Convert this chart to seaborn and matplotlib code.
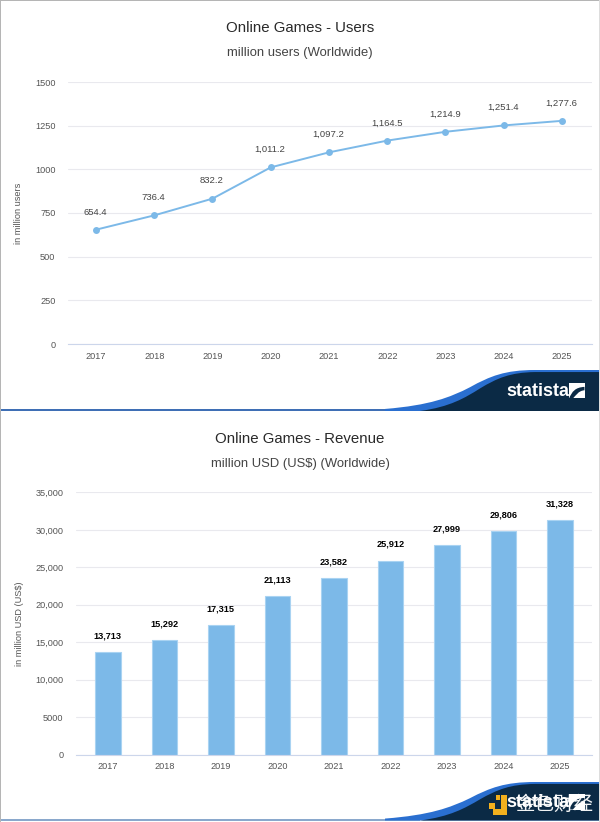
"""Online Games users and revenue, two stacked Statista panels."""

import matplotlib

matplotlib.use("Agg")
import matplotlib.pyplot as plt  # noqa: E402
import seaborn as sns  # noqa: E402
from matplotlib.patches import PathPatch, Rectangle  # noqa: E402
from matplotlib.path import Path  # noqa: E402

years = ["2017", "2018", "2019", "2020", "2021", "2022", "2023", "2024", "2025"]
users = [654.4, 736.4, 832.2, 1011.2, 1097.2, 1164.5, 1214.9, 1251.4, 1277.6]
revenue = [13713, 15292, 17315, 21113, 23582, 25912, 27999, 29806, 31328]
user_ticks = [0, 250, 500, 750, 1000, 1250, 1500]
revenue_ticks = [0, 5000, 10000, 15000, 20000, 25000, 30000, 35000]
revenue_tick_labels = ["0", "5000", "10,000", "15,000", "20,000", "25,000", "30,000", "35,000"]

W, H = 600, 822
BLUE = "#7cb9e8"
NAVY = "#0b2a45"
BRIGHT = "#2a6fd0"
GRID = "#e9e9ee"
TEXT = "#555555"
YELLOW = "#f2b01e"

sns.set_theme(style="white")
plt.rcParams["font.family"] = ["Liberation Sans", "Noto Sans CJK SC", "DejaVu Sans"]


def px_axes(fig, left, top, right, bottom):
    """Add axes from pixel edges, counted from the top left."""
    return fig.add_axes([left / W, 1 - bottom / H, (right - left) / W, (bottom - top) / H])


def style_axes(ax, ylabel, ticks, labels, ymax, label_x):
    ax.set_ylim(0, ymax)
    ax.set_yticks(ticks)
    ax.set_yticklabels(labels)
    ax.set_xlabel("")
    ax.set_ylabel(ylabel, fontsize=6.6, color=TEXT)
    ax.yaxis.set_label_coords(label_x, 0.5)
    ax.grid(axis="y", color=GRID, linewidth=0.8)
    ax.set_axisbelow(True)
    sns.despine(ax=ax, left=True, top=True, right=True)
    ax.spines["bottom"].set_color("#ccd6eb")
    ax.spines["bottom"].set_linewidth(0.8)
    ax.tick_params(axis="y", labelsize=6.6, labelcolor=TEXT, length=0, pad=9)
    ax.tick_params(axis="x", labelsize=6.6, labelcolor=TEXT, length=0, pad=5.5)


def draw_banner(ov, top, bottom):
    """Navy ribbon with its bright blue edge, drawn in pixel coordinates."""
    span = bottom - top

    def up(frac):
        return bottom - frac * span

    curves = [Path.MOVETO] + [Path.CURVE4] * 6
    blue = [(385, up(0.05)), (430, up(0.14)), (450, up(0.33)), (470, up(0.58)),
            (490, up(0.85)), (505, up(1.0)), (535, up(1.0)),
            (W, up(1.0)), (W, bottom), (385, bottom)]
    ov.add_patch(PathPatch(Path(blue, curves + [Path.LINETO] * 3), fc=BRIGHT, ec="none"))
    navy = [(420, bottom), (450, up(0.10)), (465, up(0.32)), (480, up(0.55)),
            (497, up(0.80)), (510, up(0.94)), (535, up(0.95)),
            (W, up(0.95)), (W, bottom), (420, bottom)]
    ov.add_patch(PathPatch(Path(navy, curves + [Path.LINETO] * 3), fc=NAVY, ec="none"))


def draw_logo(ov, x, y):
    ov.text(x, y, "statista", color="white", fontsize=13, fontweight="bold",
            ha="left", va="center")
    left, top = x + 63, y - 8
    size = 15.5
    ov.add_patch(Rectangle((left, top), size, size, fc="white", ec="none"))
    band = [(0, 1), (0.2, 0.55), (0.4, 0.28), (1, 0.25), (1, 0.47),
            (0.6, 0.5), (0.45, 0.8), (0.25, 1), (0, 1)]
    band = [(left + u * size, top + v * size) for u, v in band]
    codes = [Path.MOVETO] + [Path.CURVE4] * 3 + [Path.LINETO] + [Path.CURVE4] * 3 + [Path.LINETO]
    ov.add_patch(PathPatch(Path(band, codes), fc=NAVY, ec="none"))


fig = plt.figure(figsize=(W / 100, H / 100), dpi=100, facecolor="white")

# users panel
ax1 = px_axes(fig, 68, 82, 592, 344)
sns.lineplot(x=years, y=users, ax=ax1, color=BLUE, linewidth=1.4, marker="o",
             markersize=5, markeredgewidth=0, errorbar=None, sort=False)
ax1.set_xlim(-0.48, 8.515)
style_axes(ax1, "in million users", user_ticks, [str(t) for t in user_ticks], 1500,
           (23 - 68) / 524)
for i, value in enumerate(users):
    ax1.annotate(f"{value:,.1f}", (i, value), xytext=(-0.5, 9.5), textcoords="offset points",
                 ha="center", va="bottom", fontsize=6.8, color="#444444")

# revenue panel
ax2 = px_axes(fig, 76, 492.5, 592, 754.5)
sns.barplot(x=years, y=revenue, ax=ax2, color=BLUE, width=0.45, saturation=1,
            edgecolor="#a9d3f2", linewidth=0.8, errorbar=None)
ax2.set_xlim(-0.563, 8.57)
style_axes(ax2, "in million USD (US$)", revenue_ticks, revenue_tick_labels, 35000,
           (24.5 - 76) / 516)
for i, value in enumerate(revenue):
    ax2.annotate(f"{value:,}", (i, value), xytext=(0, 8.5), textcoords="offset points",
                 ha="center", va="bottom", fontsize=6.6, color="black", fontweight="bold")

# titles, banners and page furniture sit on a pixel overlay
ov = fig.add_axes([0, 0, 1, 1], zorder=5)
ov.set_xlim(0, W)
ov.set_ylim(H, 0)
ov.axis("off")
ov.patch.set_alpha(0)

ov.text(300, 28.5, "Online Games - Users", fontsize=10.8, color="#2a2a2a", ha="center", va="center")
ov.text(300, 53, "million users (Worldwide)", fontsize=9.4, color="#444444", ha="center", va="center")
ov.text(300, 438.5, "Online Games - Revenue", fontsize=10.8, color="#2a2a2a", ha="center", va="center")
ov.text(300, 464, "million USD (US$) (Worldwide)", fontsize=9.4, color="#444444", ha="center", va="center")

# thin rules under each panel run into the ribbons
ov.add_patch(Rectangle((0, 408.5), 420, 0.8, fc="#cde6f5", ec="none"))
ov.add_patch(Rectangle((0, 409), 420, 2, fc="#3f6fb5", ec="none"))
ov.add_patch(Rectangle((0, 819), 420, 2, fc="#8aa8cc", ec="none"))

draw_banner(ov, 370, 411)
draw_logo(ov, 506, 391)
draw_banner(ov, 782, 820.5)
draw_logo(ov, 506, 802)

ov.add_patch(Rectangle((0, 0), W, 1, fc="#b5b5b5", ec="none"))
ov.add_patch(Rectangle((0, 0), 1, H, fc="#b5b5b5", ec="none"))
ov.add_patch(Rectangle((599, 0), 1, H, fc="#dddddd", ec="none"))

# site watermark over the second logo
ov.add_patch(Rectangle((501, 795), 6, 20, fc=YELLOW, ec="none"))
ov.add_patch(Rectangle((493, 809), 14, 6, fc=YELLOW, ec="none"))
ov.add_patch(Rectangle((489, 803), 6, 6, fc=YELLOW, ec="none"))
ov.add_patch(Rectangle((496, 795), 4, 5, fc=YELLOW, ec="none"))
ov.text(515, 805, "金色财经", fontsize=14, color="white", ha="left", va="center", alpha=0.95)

fig.savefig("out.png", dpi=100)
plt.close(fig)
